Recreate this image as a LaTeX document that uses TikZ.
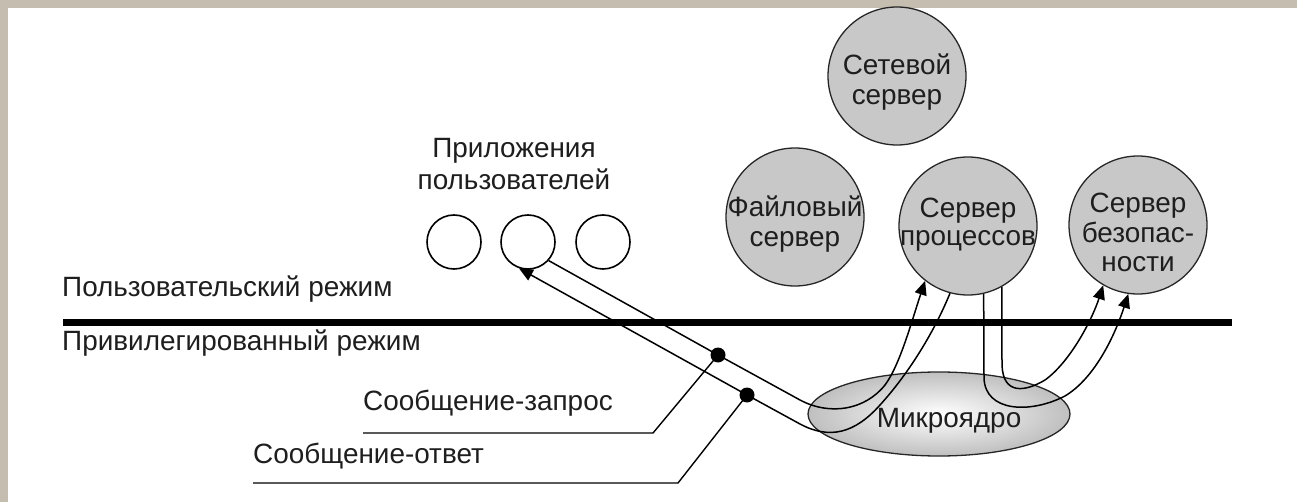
\documentclass[tikz,border=0pt]{standalone}
\usepackage{fontspec}
\setmainfont{Liberation Sans}
\usetikzlibrary{arrows.meta,shapes.geometric}

\definecolor{framebeige}{RGB}{196,189,176}
\definecolor{srvgray}{RGB}{200,200,200}
\definecolor{inkgray}{RGB}{30,30,30}

\begin{document}
\begin{tikzpicture}[x=1pt,y=-1pt,
  lbl/.style={font=\fontsize{27.9}{30}\selectfont, text=inkgray, inner sep=0pt},
  srv/.style={circle, draw=black!85, line width=1.3pt, fill=srvgray, minimum size=138pt, inner sep=0pt},
  appcirc/.style={circle, draw=black, line width=1.6pt, fill=white, minimum size=54pt, inner sep=0pt},
  wire/.style={line width=1.5pt},
  msg/.style={wire, -{Triangle[length=14pt,width=12pt]}},
  msgdot/.style={circle, fill=black, minimum size=15pt, inner sep=0pt},
  leader/.style={line width=1.4pt}]

% page and frame bands
\useasboundingbox (0,0) rectangle (1297,502);
\fill[white] (0,0) rectangle (1297,502);
\fill[framebeige] (0,0) rectangle (1297,8);
\fill[framebeige] (0,0) rectangle (8,502);

% user applications
\node[appcirc] (app1) at (454,242) {};
\node[appcirc] (app2) at (528,242) {};
\node[appcirc] (app3) at (603,242) {};
\node[lbl, anchor=base] (apptitle1) at (514,158) {Приложения};
\node[lbl, anchor=base] (apptitle2) at (514,190) {пользователей};

% servers
\node[srv] (net) at (897,76) {};
\node[srv] (fs) at (795,217) {};
\node[srv] (ps) at (968,226) {};
\node[srv] (sec) at (1138,225) {};
\node[lbl, anchor=base] (netA) at (897,75) {Сетевой};
\node[lbl, anchor=base] (netB) at (897,105) {сервер};
\node[lbl, anchor=base] (fsA) at (795,217) {Файловый};
\node[lbl, anchor=base] (fsB) at (795,247) {сервер};
\node[lbl, anchor=base] (psA) at (968,218) {Сервер};
\node[lbl, anchor=base] (psB) at (968,246) {процессов};
\node[lbl, anchor=base] (secA) at (1138,213) {Сервер};
\node[lbl, anchor=base] (secB) at (1138,243) {безопас-};
\node[lbl, anchor=base] (secC) at (1138,272) {ности};

% microkernel
\node[ellipse, draw=black!85, line width=1.3pt, shade, inner color=white, outer color=gray!50,
      minimum width=262pt, minimum height=84pt, inner sep=0pt] (mk) at (939,414) {};

% boundary between user mode and kernel mode
\coordinate (modeL) at (63,322);
\coordinate (modeR) at (1232,322);
\draw[line width=7pt] (modeL) -- (modeR);
\node[lbl, anchor=base west] (usermode) at (62,297) {Пользовательский режим};
\node[lbl, anchor=base west] (kernmode) at (62,350) {Привилегированный режим};

% request / reply channel between application and process server
\coordinate (dotB) at (718,355);
\coordinate (dotA) at (747,395);
\coordinate (bendB) at (800,400);
\coordinate (bendA) at (800,424);
\coordinate (riseB) at (885,385);
\coordinate (riseA) at (880,405);
\draw[msg] (app2.318) -- (dotB) -- (bendB)
  .. controls (830,416) and (865,410) .. (riseB)
  .. controls (900,365) and (912,320) .. (ps.232);
\draw[msg] (ps.255) .. controls (935,330) and (910,372) .. (riseA)
  .. controls (855,433) and (830,440) .. (bendA) -- (dotA) -- (app2.251);

% channel from process server to security server
\coordinate (downIn) at (1002,365);
\coordinate (downOut) at (984,378);
\coordinate (turnIn) at (1045,380);
\coordinate (turnOut) at (1065,396);
\draw[msg] (ps.299) -- (downIn)
  .. controls (1003,395) and (1025,392) .. (turnIn)
  .. controls (1070,362) and (1092,320) .. (sec.240);
\draw[msg] (ps.283) -- (downOut)
  .. controls (985,412) and (1030,414) .. (turnOut)
  .. controls (1095,378) and (1115,335) .. (sec.262);

\node[lbl, anchor=base] (mklabel) at (949,427) {Микроядро};

% message labels with leaders
\coordinate (reqL) at (363,433);
\coordinate (reqK) at (653,433);
\coordinate (repL) at (253,483);
\coordinate (repK) at (678,483);
\draw[leader] (reqL) -- (reqK) -- (dotB);
\draw[leader] (repL) -- (repK) -- (dotA);
\node[msgdot] (reqdot) at (dotB) {};
\node[msgdot] (repdot) at (dotA) {};
\node[lbl, anchor=base west] (reqtext) at (363,410) {Сообщение-запрос};
\node[lbl, anchor=base west] (reptext) at (253,463) {Сообщение-ответ};

\end{tikzpicture}
\end{document}
